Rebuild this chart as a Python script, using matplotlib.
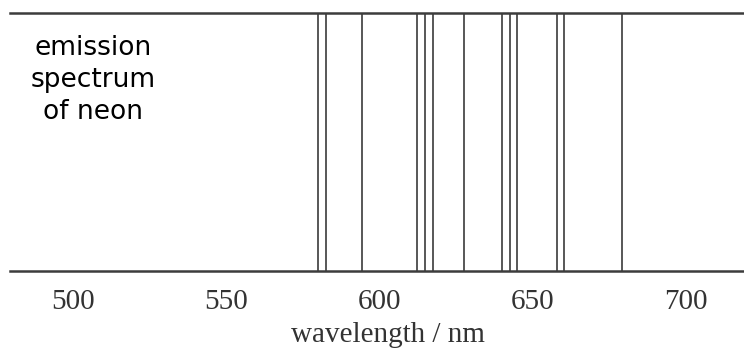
import matplotlib
matplotlib.use("Agg")
import matplotlib.pyplot as plt

# neon lines (nm)
line_nm = [580.0, 582.5, 594.3, 612.2, 614.8, 617.5, 627.6,
           640.0, 642.6, 644.9, 657.9, 660.2, 679.1]
tick_nm = [500, 550, 600, 650, 700]
tick_labels = ["500", "550", "600", "650", "700"]

W, H = 744, 351
fig = plt.figure(figsize=(W / 100, H / 100), dpi=100)
fig.patch.set_facecolor("white")

# axes box: horizontal lines at y=13 and y=271 px, from x=10 px to the right edge
ax = fig.add_axes([10 / W, (H - 271) / H, 1 - 10 / W, (271 - 13) / H])
ax.set_xlim(479.4, 718.9)
ax.set_ylim(0, 1)

ax.vlines(line_nm, 0, 1, color="#4a4a4a", linewidth=1.3)

for side in ["left", "right"]:
    ax.spines[side].set_visible(False)
for side in ["top", "bottom"]:
    ax.spines[side].set_color("#3c3c3c")
    ax.spines[side].set_linewidth(1.8)

ax.set_yticks([])
ax.set_xticks(tick_nm)
ax.set_xticklabels(tick_labels, fontfamily="Liberation Serif", fontsize=21, color="#333333")
ax.tick_params(axis="x", length=0, pad=13)

fig.text(388 / W, 9 / H, "wavelength / nm", ha="center", va="baseline",
         fontfamily="Liberation Serif", fontsize=21, color="#333333")

fig.text(93 / W, (H - 80) / H, "emission\nspectrum\nof neon", ha="center", va="center",
         multialignment="center", fontfamily="DejaVu Sans", fontsize=19,
         linespacing=1.3, color="black")

fig.savefig("out.png", dpi=100, facecolor="white")
